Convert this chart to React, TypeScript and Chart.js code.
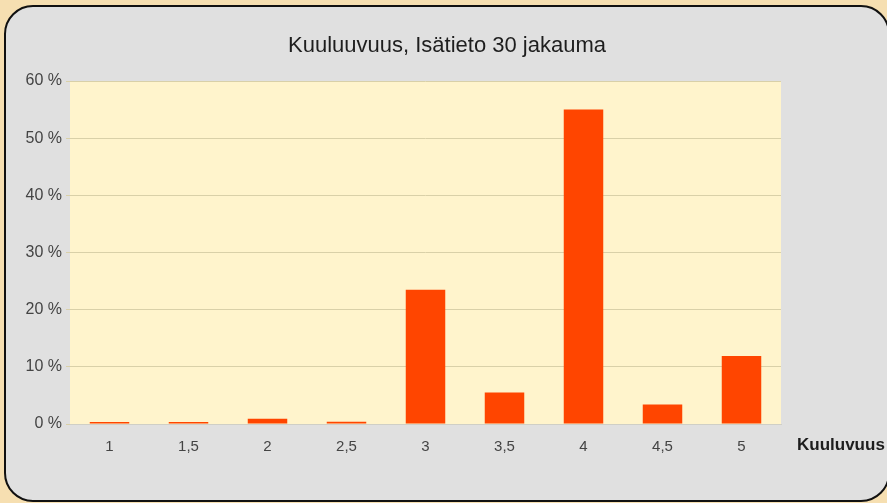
import { useEffect, useRef } from "react";
import { Chart, registerables } from "chart.js";

Chart.register(...registerables);

const categories = ["1", "1,5", "2", "2,5", "3", "3,5", "4", "4,5", "5"];
const shares = [0.35, 0.35, 0.9, 0.4, 23.5, 5.5, 55, 3.4, 11.9];
const yTicks = [0, 10, 20, 30, 40, 50, 60];
const titleText = "Kuuluuvuus, Isätieto 30 jakauma";
const axisTitle = "Kuuluvuus";

const FONT = "'Liberation Sans', Arial, sans-serif";

const decor = {
  id: "decor",
  beforeDraw(chart: any) {
    const { ctx, chartArea: a } = chart;
    ctx.save();
    ctx.fillStyle = "#f6dfb1";
    ctx.fillRect(0, 0, chart.width, chart.height);
    ctx.beginPath();
    ctx.roundRect(5, 6, 884, 495, 28);
    ctx.fillStyle = "#e0e0e0";
    ctx.fill();
    ctx.lineWidth = 2;
    ctx.strokeStyle = "#111111";
    ctx.stroke();
    ctx.fillStyle = "#fff4cc";
    ctx.fillRect(a.left, a.top, a.right - a.left, a.bottom - a.top);
    ctx.restore();
  },
  afterDraw(chart: any) {
    const { ctx } = chart;
    ctx.save();
    ctx.fillStyle = "#1e1e1e";
    ctx.font = `22px ${FONT}`;
    ctx.textAlign = "center";
    ctx.textBaseline = "alphabetic";
    ctx.fillText(titleText, 447, 52);
    ctx.font = `bold 17px ${FONT}`;
    ctx.textAlign = "left";
    ctx.fillText(axisTitle, 797, 450);
    ctx.restore();
  },
};

export default function App() {
  const ref = useRef<HTMLCanvasElement | null>(null);
  useEffect(() => {
    if (!ref.current) return;
    const chart = new Chart(ref.current, {
      type: "bar",
      data: {
        labels: categories,
        datasets: [
          {
            data: shares,
            backgroundColor: "#ff4500",
            borderWidth: 0,
            categoryPercentage: 1,
            barPercentage: 0.5,
          },
        ],
      },
      options: {
        responsive: false,
        animation: false,
        events: [],
        layout: { padding: { left: 0, right: 106, top: 81, bottom: 0 } },
        plugins: {
          legend: { display: false },
          title: { display: false },
          tooltip: { enabled: false },
        },
        scales: {
          x: {
            grid: { display: false, drawTicks: false },
            border: { display: true, color: "#cfcfc6", width: 1 },
            ticks: {
              color: "#444444",
              font: { family: FONT, size: 15 },
              padding: 14,
              maxRotation: 0,
            },
            afterFit(scale: any) {
              scale.height = 79;
            },
          },
          y: {
            min: 0,
            max: 60,
            afterBuildTicks(scale: any) {
              scale.ticks = yTicks.map((v) => ({ value: v }));
            },
            grid: { color: "#d9d0a8", tickLength: 4, drawTicks: true },
            border: { display: false },
            ticks: {
              color: "#444444",
              font: { family: FONT, size: 16 },
              padding: 4,
              callback: (v: any) => `${v} %`,
            },
            afterFit(scale: any) {
              scale.width = 70;
            },
          },
        },
      },
      plugins: [decor],
    });
    return () => chart.destroy();
  }, []);
  return (
    <div style={{ position: "fixed", left: 0, top: 0, width: 887, height: 503 }}>
      <canvas ref={ref} width={887} height={503} style={{ display: "block" }} />
    </div>
  );
}
